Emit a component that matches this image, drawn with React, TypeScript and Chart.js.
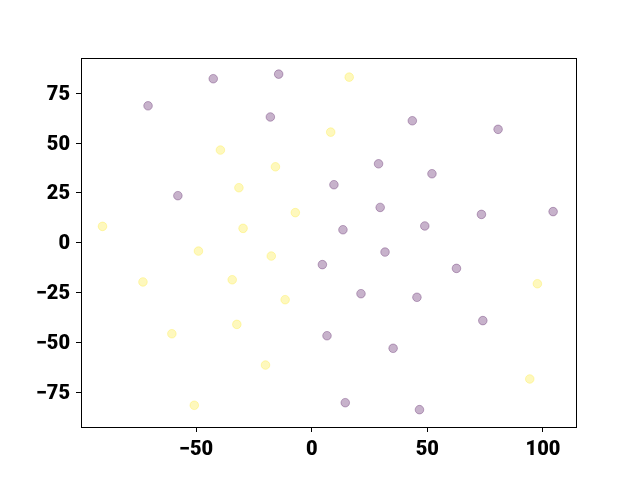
import React, { useEffect, useRef } from "react";
import { Chart, registerables } from "chart.js";

Chart.register(...registerables);

const purpleX = [-70.8, -42.6, -14.3, -17.9, -57.9, 43.5, 80.6, 28.9, 52.0, 9.6, 29.6, 73.4, 104.4, 13.5, 48.9, 31.7, 4.6, 62.6, 21.3, 45.5, 74.0, 6.6, 35.2, 14.5, 46.6];
const purpleY = [68.7, 82.3, 84.6, 63.1, 23.6, 61.2, 56.9, 39.6, 34.6, 29.1, 17.7, 14.2, 15.6, 6.5, 8.4, -4.7, -11.0, -12.9, -25.6, -27.4, -39.1, -46.7, -53.0, -80.3, -83.8];

const yellowX = [8.2, -39.5, -15.7, -31.5, -7.1, -90.5, -29.7, 16.2, -49.0, -17.5, -73.0, -34.4, -11.5, -32.4, -60.5, -20.0, -50.8, 97.6, 94.3];
const yellowY = [55.5, 46.5, 38.1, 27.6, 15.1, 8.2, 7.2, 83.1, -4.2, -6.7, -19.7, -18.6, -28.6, -41.0, -45.7, -61.4, -81.6, -20.6, -68.4];

const xTicks = [-50, 0, 50, 100];
const yTicks = [-75, -50, -25, 0, 25, 50, 75];

const toPts = (xs: number[], ys: number[]) => xs.map((x, i) => ({ x, y: ys[i] }));
const fmt = (v: number) => (v < 0 ? "\u2212" + Math.abs(v) : String(v));

const framePlugin = {
  id: "frame",
  afterDraw(chart: any) {
    const { ctx, chartArea } = chart;
    ctx.save();
    ctx.strokeStyle = "#000";
    ctx.lineWidth = 1;
    ctx.strokeRect(
      Math.round(chartArea.left) + 0.5,
      Math.round(chartArea.top) + 0.5,
      Math.round(chartArea.right - chartArea.left),
      Math.round(chartArea.bottom - chartArea.top)
    );
    ctx.restore();
  },
};

export default function App() {
  const ref = useRef<HTMLCanvasElement | null>(null);
  useEffect(() => {
    if (!ref.current) return;
    const font = { family: "Roboto", size: 20, weight: 900 as any };
    const chart = new Chart(ref.current, {
      type: "scatter",
      data: {
        datasets: [
          {
            data: toPts(purpleX, purpleY),
            backgroundColor: "rgba(68,1,84,0.3)",
            borderColor: "rgba(68,1,84,0.3)",
            borderWidth: 1,
            pointRadius: 4.3,
          },
          {
            data: toPts(yellowX, yellowY),
            backgroundColor: "rgba(253,231,37,0.3)",
            borderColor: "rgba(253,231,37,0.3)",
            borderWidth: 1,
            pointRadius: 4.3,
          },
        ],
      },
      options: {
        responsive: false,
        animation: false,
        layout: { padding: { left: 0, top: 58, right: 64, bottom: 0 } },
        plugins: { legend: { display: false }, tooltip: { enabled: false } },
        scales: {
          x: {
            type: "linear",
            min: -99.8,
            max: 114.3,
            afterBuildTicks: (axis: any) => {
              axis.ticks = xTicks.map((v) => ({ value: v }));
            },
            afterFit: (axis: any) => {
              axis.height = 53;
            },
            ticks: { color: "#000", font, padding: 6, callback: (v: any) => fmt(Number(v)) },
            grid: { display: true, drawOnChartArea: false, drawTicks: true, tickLength: 5, color: "#000" },
            border: { display: true, color: "#000" },
          },
          y: {
            type: "linear",
            min: -92.5,
            max: 92.7,
            afterBuildTicks: (axis: any) => {
              axis.ticks = yTicks.map((v) => ({ value: v }));
            },
            afterFit: (axis: any) => {
              axis.width = 81;
            },
            ticks: { color: "#000", font, padding: 6, labelOffset: 1.5, callback: (v: any) => fmt(Number(v)) },
            grid: { display: true, drawOnChartArea: false, drawTicks: true, tickLength: 5, color: "#000" },
            border: { display: true, color: "#000" },
          },
        },
      },
      plugins: [framePlugin],
    });
    return () => chart.destroy();
  }, []);
  return (
    <div style={{ position: "fixed", left: 0, top: 0, width: 640, height: 480, background: "#fff" }}>
      <canvas ref={ref} width={640} height={480} style={{ width: 640, height: 480 }} />
    </div>
  );
}
